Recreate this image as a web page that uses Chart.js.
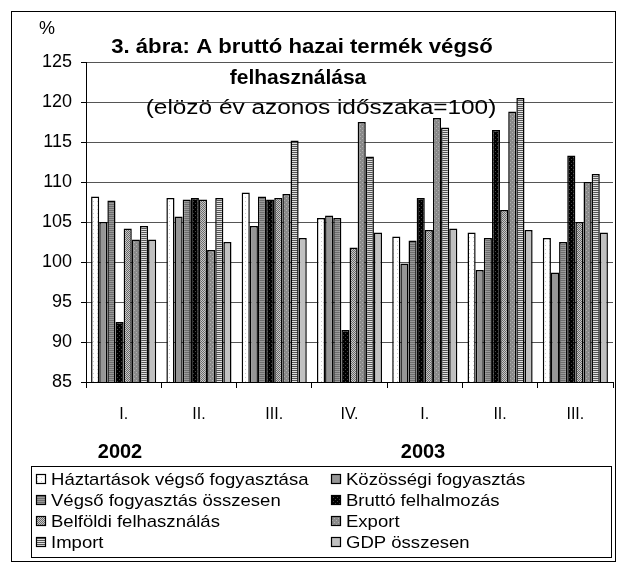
<!DOCTYPE html>
<html>
<head>
<meta charset="utf-8">
<script src="https://cdn.jsdelivr.net/npm/chart.js@4"></script>
<style>
  html, body { margin: 0; padding: 0; background: #fff; }
  #doboz { position: relative; width: 621px; height: 565px; }
</style>
</head>
<body>
<div id="doboz"><canvas id="grafico" width="621" height="565"></canvas></div>
<script>
// Adatok (leolvasva az ábráról)
const negyedevek = ['I.', 'II.', 'III.', 'IV.', 'I.', 'II.', 'III.'];
const evek = ['2002', '2003'];
const yTicks = [85, 90, 95, 100, 105, 110, 115, 120, 125];
const nevek = [
  'Háztartások végső fogyasztása', 'Közösségi fogyasztás',
  'Végső fogyasztás összesen', 'Bruttó felhalmozás',
  'Belföldi felhasználás', 'Export',
  'Import', 'GDP összesen'
];
const haztartasok = [108.2, 108.0, 108.7, 105.5, 103.2, 103.7, 103.0];
const kozossegi   = [105.0, 105.7, 104.5, 105.8, 99.8, 99.0, 98.7];
const vegso       = [107.7, 107.8, 108.2, 105.5, 102.7, 103.0, 102.5];
const brutto      = [92.5, 108.0, 107.8, 91.5, 108.0, 116.5, 113.3];
const belfoldi    = [104.2, 107.8, 108.0, 101.8, 104.0, 106.5, 105.0];
const exportAdat  = [102.8, 101.5, 108.5, 117.5, 118.0, 118.8, 110.0];
const importAdat  = [104.5, 108.0, 115.2, 113.2, 116.8, 120.5, 111.0];
const gdp         = [102.8, 102.5, 103.0, 103.7, 104.2, 104.0, 103.7];

const FONT = '"Liberation Sans", Arial, sans-serif';

// mintázatok az oszlopokhoz
function minta(meret, rajz) {
  const c = document.createElement('canvas');
  c.width = meret; c.height = meret;
  const g = c.getContext('2d');
  rajz(g);
  return document.createElement('canvas').getContext('2d').createPattern(c, 'repeat');
}
const mintak = [
  minta(4, g => { g.fillStyle = '#fff'; g.fillRect(0, 0, 4, 4); g.fillStyle = '#ccc'; g.fillRect(1, 1, 1, 1); }),
  minta(2, g => { g.fillStyle = '#969696'; g.fillRect(0, 0, 2, 2); }),
  minta(2, g => { g.fillStyle = '#9a9a9a'; g.fillRect(0, 0, 2, 2); g.fillStyle = '#6e6e6e'; g.fillRect(0, 0, 2, 1); }),
  minta(4, g => { g.fillStyle = '#000'; g.fillRect(0, 0, 4, 4); g.fillStyle = '#444'; g.fillRect(1, 1, 1, 1); g.fillRect(3, 3, 1, 1); }),
  minta(2, g => { g.fillStyle = '#c8c8c8'; g.fillRect(0, 0, 2, 2); g.fillStyle = '#6a6a6a'; g.fillRect(0, 0, 1, 1); g.fillRect(1, 1, 1, 1); }),
  minta(4, g => { g.fillStyle = '#8a8a8a'; g.fillRect(0, 0, 4, 4); g.fillStyle = '#b0b0b0'; g.fillRect(0, 0, 1, 1); g.fillRect(2, 2, 1, 1); }),
  minta(2, g => { g.fillStyle = '#e0e0e0'; g.fillRect(0, 0, 2, 2); g.fillStyle = '#555'; g.fillRect(0, 0, 2, 1); }),
  minta(2, g => { g.fillStyle = '#c0c0c0'; g.fillRect(0, 0, 2, 2); })
];

const sorok = [haztartasok, kozossegi, vegso, brutto, belfoldi, exportAdat, importAdat, gdp];

// vízszintesen nyújtott szöveg (az eredeti betűköz miatt)
function szoveg(ctx, t, x, y, sx) {
  ctx.save();
  ctx.translate(x, y);
  ctx.scale(sx, 1);
  ctx.fillText(t, 0, 0);
  ctx.restore();
}

// szövegek, keret, jelmagyarázat
const rajzolo = {
  id: 'rajzolo',
  afterDraw(chart) {
    const ctx = chart.ctx;
    ctx.save();
    ctx.strokeStyle = '#000';
    ctx.lineWidth = 1;
    ctx.strokeRect(11.5, 11.5, 604, 550);

    ctx.fillStyle = '#000';
    ctx.textBaseline = 'middle';
    ctx.textAlign = 'center';
    ctx.font = '18px ' + FONT;
    ctx.fillText('%', 47, 29);
    ctx.font = 'bold 21px ' + FONT;
    szoveg(ctx, '3. ábra: A bruttó hazai termék végső', 302, 47, 1.055);
    ctx.fillText('felhasználása', 298, 78);
    ctx.font = '20px ' + FONT;
    szoveg(ctx, '(elözö év azonos időszaka=100)', 321, 108, 1.22);

    ctx.font = 'bold 20px ' + FONT;
    ctx.fillText(evek[0], 120, 452);
    ctx.fillText(evek[1], 423, 452);

    // jelmagyarázat
    ctx.strokeRect(31.5, 466.5, 580, 91);
    ctx.font = '17px ' + FONT;
    ctx.textAlign = 'left';
    nevek.forEach((nev, i) => {
      const x = i % 2 === 0 ? 36 : 331;
      const y = 479 + Math.floor(i / 2) * 21;
      ctx.fillStyle = mintak[i];
      ctx.fillRect(x, y - 5, 10, 10);
      ctx.lineWidth = 1.2;
      ctx.strokeRect(x + 0.5, y - 4.5, 9, 9);
      ctx.fillStyle = '#000';
      szoveg(ctx, nev, x + 15, y + 1, 1.09);
    });
    ctx.restore();
  }
};

new Chart(document.getElementById('grafico').getContext('2d'), {
  type: 'bar',
  data: {
    labels: negyedevek,
    datasets: sorok.map((adat, i) => ({
      label: nevek[i],
      data: adat,
      backgroundColor: mintak[i],
      borderColor: '#000',
      borderWidth: 1.5,
      borderSkipped: false,
      categoryPercentage: 0.865,
      barPercentage: 1
    }))
  },
  options: {
    responsive: false,
    animation: false,
    layout: { padding: { left: 0, top: 62, right: 8, bottom: 0 } },
    scales: {
      x: {
        afterFit: s => { s.height = 565 - 62 - 320; },
        grid: { display: true, drawOnChartArea: false, offset: true, tickLength: 6, color: '#000' },
        border: { display: true, color: '#000', width: 1 },
        ticks: { font: { family: FONT, size: 16 }, color: '#000', padding: 17 }
      },
      y: {
        min: 85,
        max: 125,
        afterFit: s => { s.width = 86; },
        afterBuildTicks: s => { s.ticks = yTicks.map(v => ({ value: v })); },
        grid: { color: '#555', lineWidth: 1, tickLength: 5, tickColor: '#000' },
        border: { display: true, color: '#000', width: 1 },
        ticks: { font: { family: FONT, size: 18 }, color: '#000', padding: 9 }
      }
    },
    plugins: {
      legend: { display: false },
      title: { display: false },
      tooltip: { enabled: false }
    }
  },
  plugins: [rajzolo]
});
</script>
</body>
</html>
